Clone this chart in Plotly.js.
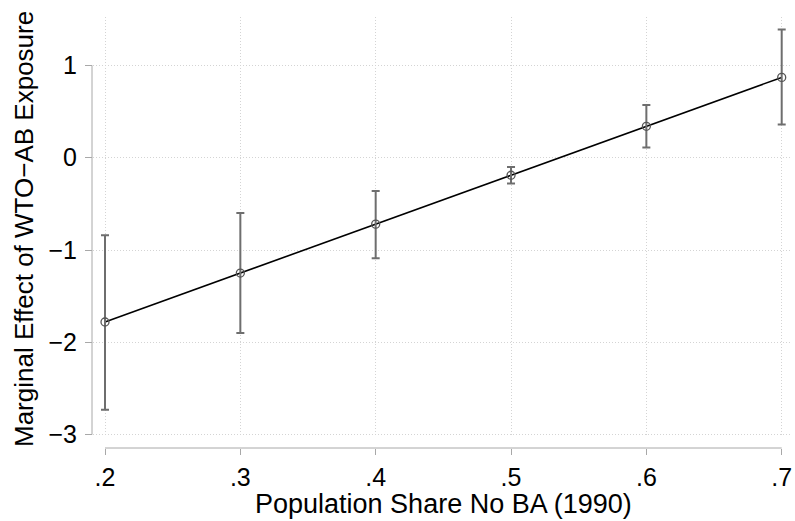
<!DOCTYPE html>
<html>
<head>
<meta charset="utf-8">
<script src="https://cdn.plot.ly/plotly-3.0.1.min.js"></script>
<style>html,body{margin:0;padding:0;background:#fff;}#chart{width:795px;height:521px;}</style>
</head>
<body>
<div id="chart"></div>
<script>
// Data
var shareNoBA   = [0.2, 0.3, 0.4, 0.5, 0.6, 0.7];
var marginalEff = [-1.78, -1.25, -0.72, -0.19, 0.34, 0.87];
var ciUpper     = [-0.84, -0.60, -0.36, -0.10, 0.57, 1.39];
var ciLower     = [-2.73, -1.90, -1.09, -0.28, 0.11, 0.36];

var xTickVals = [0.2, 0.3, 0.4, 0.5, 0.6, 0.7];
var xTickText = ['.2', '.3', '.4', '.5', '.6', '.7'];
var yTickVals = [-3, -2, -1, 0, 1];
var yTickText = ['\u22123', '\u22122', '\u22121', '0', '1'];

var errPlus  = marginalEff.map(function (v, i) { return ciUpper[i] - v; });
var errMinus = marginalEff.map(function (v, i) { return v - ciLower[i]; });

var W = 795, H = 521;
var mL = 92, mR = 5, mT = 17, mB = 73;
var pw = W - mL - mR, ph = H - mT - mB;
function px2x(px) { return (px - mL) / pw; }
function py2y(py) { return (H - mB - py) / ph; }

var line = {
  x: shareNoBA, y: marginalEff, type: 'scatter', mode: 'lines',
  line: { color: '#000000', width: 1.6 }, hoverinfo: 'skip', showlegend: false
};
var pts = {
  x: shareNoBA, y: marginalEff, type: 'scatter', mode: 'markers',
  marker: { symbol: 'circle-open', size: 8, color: '#555555', line: { width: 1.3, color: '#555555' } },
  error_y: { type: 'data', symmetric: false, array: errPlus, arrayminus: errMinus,
             color: '#6e6e6e', thickness: 2, width: 4 },
  showlegend: false
};

var layout = {
  width: W, height: H,
  margin: { l: mL, r: mR, t: mT, b: mB, pad: 0 },
  paper_bgcolor: '#ffffff', plot_bgcolor: '#ffffff',
  font: { family: 'Liberation Sans, Arial, Helvetica, sans-serif', color: '#000000' },
  showlegend: false,
  xaxis: {
    domain: [px2x(93), 1],
    range: [0.2 - 12 / 1353, 0.7 + 8.3 / 1353],
    anchor: 'free', position: 0,
    tickmode: 'array', tickvals: xTickVals, ticktext: xTickText,
    ticks: 'outside', ticklen: 6, tickwidth: 1, tickcolor: '#a8a8a8',
    tickfont: { size: 25, color: '#000000' }, ticklabelstandoff: 1,
    showline: false, zeroline: false,
    showgrid: true, gridcolor: '#d4d4d4', gridwidth: 1, griddash: '1px,2px'
  },
  yaxis: {
    domain: [py2y(437), 1],
    range: [-(437 - 157.7) / 92.3, (157.7 - 17) / 92.3],
    anchor: 'free', position: 0,
    tickmode: 'array', tickvals: yTickVals, ticktext: yTickText,
    ticks: 'outside', ticklen: 7, tickwidth: 1, tickcolor: '#a8a8a8',
    tickfont: { size: 25, color: '#000000' }, ticklabelstandoff: 3,
    showline: false, zeroline: false,
    showgrid: true, gridcolor: '#d4d4d4', gridwidth: 1, griddash: '1px,2px'
  },
  shapes: [
    { type: 'line', xref: 'paper', yref: 'y', x0: 0, x1: 0, y0: -3, y1: 1,
      line: { color: '#a8a8a8', width: 1 } },
    { type: 'line', xref: 'x', yref: 'paper', x0: 0.2, x1: 0.7, y0: 0, y1: 0,
      line: { color: '#a8a8a8', width: 1 } }
  ],
  annotations: [
    { text: 'Population Share No BA (1990)', xref: 'paper', yref: 'paper',
      x: px2x(443), y: py2y(504), xanchor: 'center', yanchor: 'middle',
      showarrow: false, font: { size: 27, color: '#000000' } },
    { text: 'Marginal Effect of WTO\u2212AB Exposure', xref: 'paper', yref: 'paper',
      x: px2x(24), y: py2y(229), xanchor: 'center', yanchor: 'middle', textangle: -90,
      showarrow: false, font: { size: 26, color: '#000000' } }
  ]
};

Plotly.newPlot('chart', [line, pts], layout, { displayModeBar: false, staticPlot: true });
</script>
</body>
</html>
